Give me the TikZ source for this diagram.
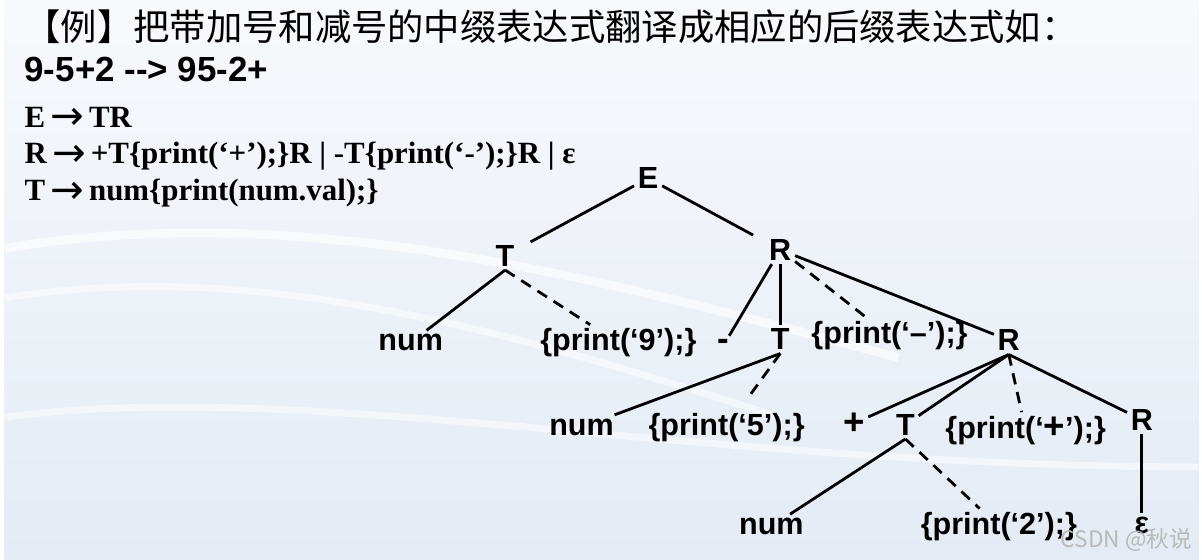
\documentclass[tikz,border=0pt]{standalone}
\usepackage{fontspec}
\setmainfont{Liberation Serif}
\newfontfamily\arial{Liberation Sans}
\newfontfamily\dejavu{DejaVu Sans}
\newfontfamily\cjk{Noto Sans CJK SC}
\usetikzlibrary{positioning}

\definecolor{bgtop}{RGB}{247,249,252}
\definecolor{bgbot}{RGB}{228,235,244}

\newcommand{\yields}{\,\raisebox{-1.5pt}[0pt][0pt]{\dejavu\mdseries\fontsize{23}{23}\selectfont →}\,}

\tikzset{
  sym/.style={font=\arial\bfseries\fontsize{17.5}{19}\selectfont, inner sep=2pt, anchor=base},
  line/.style={anchor=base west, inner sep=0pt},
  rule/.style={line, font=\bfseries\fontsize{17.7}{22}\selectfont},
  edge/.style={line width=1.6pt},
  act/.style={edge, dash pattern=on 6.5pt off 4.5pt},
}

\begin{document}
\begin{tikzpicture}[x=0.02cm, y=-0.02cm]
        % background
        \shade[top color=bgtop, bottom color=bgbot] (0,0) rectangle (1202,563);
        \draw[white, opacity=0.6, line width=5pt] (0,250) .. controls (300,200) and (600,280) .. (900,360);
        \draw[white, opacity=0.5, line width=4pt] (0,300) .. controls (250,260) and (500,330) .. (780,420);
        \draw[white, opacity=0.5, line width=4pt] (0,420) .. controls (300,380) and (700,470) .. (1202,470);

        % heading and grammar
        \node[line, font=\cjk\fontsize{20.8}{24}\selectfont] (title) at (20,41) {【例】把带加号和减号的中缀表达式翻译成相应的后缀表达式如：};
        \node[line, font=\arial\bfseries\fontsize{20}{24}\selectfont] (expr) at (20,82) {9-5+2 -{}-> 95-2+};
        \node[rule] (rule1) at (20,128) {E\yields TR};
        \node[rule] (rule2) at (20,165) {R\yields +T\{print(‘+’);\}R | -T\{print(‘-’);\}R | ε};
        \node[rule] (rule3) at (20,202) {T\yields num\{print(num.val);\}};

        % tree
        \node[sym] (E) at (648,190) {E};
        \node[sym] (T1) at (504,268) {T};
        \node[sym] (R1) at (781,262) {R};

        \node[sym] (num1) at (409,353) {num};
        \node[sym] (p9) at (618,353) {\{print(‘9’);\}};
        \node[sym] (minus) at (724,353) {\fontsize{20}{20}\selectfont -};
        \node[sym] (T2) at (781,352) {T};
        \node[sym] (pm) at (891,346) {\{print(‘–’);\}};
        \node[sym] (R2) at (1011,353) {R};

        \node[sym] (num2) at (581,438) {num};
        \node[sym] (p5) at (727,438) {\{print(‘5’);\}};
        \node[sym] (plus) at (855,437) {\fontsize{21}{21}\selectfont +};
        \node[sym] (T3) at (907,438) {T};
        \node[sym] (pp) at (1028,441) {\{print(‘{\fontsize{21}{21}\selectfont +}’);\}};
        \node[sym] (R3) at (1145,433) {R};

        \node[sym] (num3) at (772,538) {num};
        \node[sym] (p2) at (1001,538) {\{print(‘2’);\}};
        \node[sym] (eps) at (1145,537) {ε};

        \draw[edge, shorten >=8pt] (E) -- (T1);
        \draw[edge, shorten >=8pt] (E) -- (R1);
        \draw[edge] (T1.south) -- (num1);
        \draw[act] (T1.south) -- (p9);
        \draw[edge] (R1) -- (minus);
        \draw[edge] (R1) -- (T2);
        \draw[act] (R1) -- (pm);
        \draw[edge] (R1) -- (R2);
        \draw[edge] (T2.south) -- (num2);
        \draw[act, shorten >=8pt] (T2.south) -- (p5);
        \draw[edge] (R2.south) -- (plus);
        \draw[edge] (R2.south) -- (T3);
        \draw[act] (R2.south) -- (pp);
        \draw[edge] (R2.south) -- (R3);
        \draw[edge] (T3.south) -- (num3);
        \draw[act] (T3.south) -- (p2);
        \draw[edge] (R3) -- (eps);

        % watermark
        \node[line, font=\cjk\fontsize{13}{15}\selectfont, text=gray!55] (mark) at (1063,551) {CSDN @秋说};
\end{tikzpicture}
\end{document}
